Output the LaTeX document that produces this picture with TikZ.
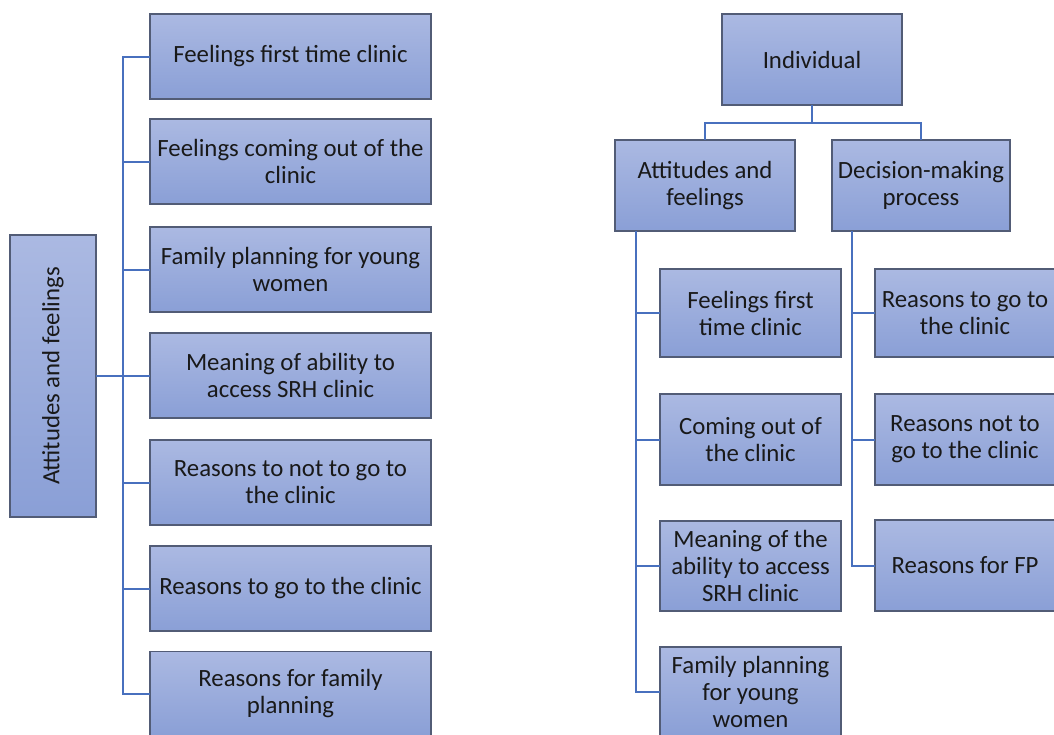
\documentclass[tikz,border=0pt]{standalone}
\usepackage{fontspec}
\setmainfont{Carlito}
\definecolor{boxtop}{RGB}{171,185,226}
\definecolor{boxbot}{RGB}{138,159,214}
\definecolor{boxline}{RGB}{82,92,118}
\definecolor{conn}{RGB}{72,112,190}
\definecolor{txt}{RGB}{25,25,25}
\tikzset{
  box/.style={rectangle, draw=boxline, line width=1.4pt, top color=boxtop, bottom color=boxbot,
    inner sep=0pt, outer sep=0pt, align=center, text=txt,
    font=\fontsize{24.8}{27}\selectfont},
  link/.style={draw=conn, line width=2pt}
}
\begin{document}
\begin{tikzpicture}[x=1pt,y=-1pt]
\useasboundingbox (0,0) rectangle (1054,734);
% left tree
\node[box, minimum width=86pt, minimum height=282pt] (big) at (53,376) {};
\node[rotate=90, text=txt, font=\fontsize{24.8}{27}\selectfont] (bigt) at (big.center) {Attitudes and feelings};
\foreach \n/\y/\t in {l1/56.5/{Feelings first time clinic},
                     l2/161.5/{Feelings coming out of the\\clinic},
                     l3/269.5/{Family planning for young\\women},
                     l4/375.5/{Meaning of ability to\\access SRH clinic},
                     l5/482.5/{Reasons to not to go to\\the clinic},
                     l6/588.5/{Reasons to go to the clinic},
                     l7/694/{Reasons for family\\planning}}
  {\node[box, minimum width=281pt, minimum height=85pt] (\n) at (290.5,\y) {\t};}
\coordinate (ltr) at (123,0);
\draw[link] (l1.west) -- (l1.west -| ltr) -- (l7.west -| ltr) -- (l7.west);
\foreach \n in {l2,l3,l4,l5,l6}
  \draw[link] (\n.west) -- (\n.west -| ltr);
\draw[link] (big.east) -- (big.east -| ltr);
% right tree
\node[box, minimum width=180pt, minimum height=91pt] (ind) at (812,59.5) {Individual};
\node[box, minimum width=180pt, minimum height=91pt] (att) at (705,185.5) {Attitudes and\\feelings};
\node[box, minimum width=178pt, minimum height=91pt] (dec) at (921,185.5) {Decision-making\\process};
\coordinate (hub) at (812,123);
\draw[link] (ind.south) -- (hub);
\draw[link] (hub) -| (att.north);
\draw[link] (hub) -| (dec.north);
\node[box, minimum width=181pt, minimum height=88pt] (a1) at (750.5,313) {Feelings first\\time clinic};
\node[box, minimum width=181pt, minimum height=91pt] (a2) at (750.5,439.5) {Coming out of\\the clinic};
\node[box, minimum width=181pt, minimum height=90pt] (a3) at (750.5,566) {Meaning of the\\ability to access\\SRH clinic};
\node[box, minimum width=181pt, minimum height=90pt] (a4) at (750.5,692) {Family planning\\for young\\women};
\node[box, minimum width=180pt, minimum height=88pt] (d1) at (965,313) {Reasons to go to\\the clinic};
\node[box, minimum width=180pt, minimum height=91pt] (d2) at (965,439.5) {Reasons not to\\go to the clinic};
\node[box, minimum width=180pt, minimum height=91pt] (d3) at (965,565.5) {Reasons for FP};
\coordinate (atr) at (636,0);
\coordinate (dtr) at (852,0);
\draw[link] (att.south -| atr) -- (a4.west -| atr) -- (a4.west);
\foreach \n in {a1,a2,a3}
  \draw[link] (\n.west) -- (\n.west -| atr);
\draw[link] (dec.south -| dtr) -- (d3.west -| dtr) -- (d3.west);
\foreach \n in {d1,d2}
  \draw[link] (\n.west) -- (\n.west -| dtr);
\end{tikzpicture}
\end{document}
